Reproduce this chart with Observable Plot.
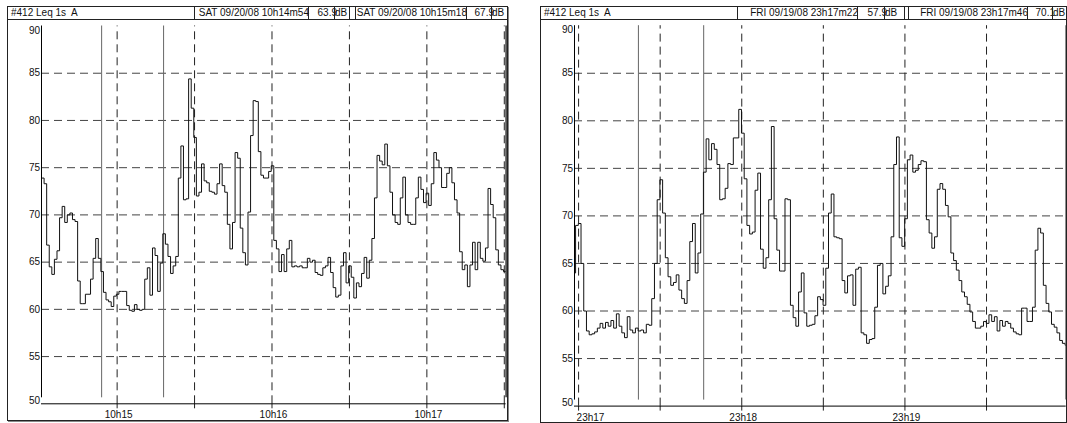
<!DOCTYPE html>
<html><head><meta charset="utf-8">
<script src="https://cdn.jsdelivr.net/npm/d3@7"></script>
<script src="https://cdn.jsdelivr.net/npm/@observablehq/plot@0.6"></script>
<style>
body{margin:0;background:#fff;font-family:"Liberation Sans",Arial,sans-serif;}
#wrap{position:relative;width:1067px;height:423px;overflow:hidden}
.panel{position:absolute;border:1px solid #222;box-sizing:border-box;box-shadow:1px 1px 0 #888;pointer-events:none}
.hrow{position:absolute;border:1px solid #222;box-sizing:border-box;height:14px;background:#fff}
.hbox{position:absolute;top:-1px;height:14px;box-sizing:border-box;border:1px solid #222;font-size:10px;line-height:12px;white-space:pre;color:#111}
.hbox span{position:absolute;top:0;white-space:pre}
svg.p{position:absolute;top:0}
</style></head><body><div id="wrap"></div>
<script>
// ---------------- data ----------------
const headerLabel = "#412 Leq 1s  A";
const yTicks = [50, 55, 60, 65, 70, 75, 80, 85, 90];
const yGrid = [55, 60, 65, 70, 75, 80, 85];

// left panel (Saturday)
const leftDate = "SAT 09/20/08";
const leftCursorTimes = ["10h14m54", "10h15m18"];
const leftCursorValues = ["63.9", "67.9"];
const leftFirstSample = "10h14m30.7";
const leftDomain = ["10h14m30.7", "10h17m30.7"];
const leftGridTimes = ["10h15m00", "10h15m30", "10h16m00", "10h16m30", "10h17m00", "10h17m30"];
const leftTickTimes = ["10h15m00", "10h16m00", "10h17m00"];
const leftTickLabels = ["10h15", "10h16", "10h17"];
const leftValues = [
  73.9, 73.3, 66.8, 64.5, 63.7, 65.3, 66.2, 69.7, 70.9, 69.2,
  70.0, 70.2, 69.5, 69.3, 63.0, 60.6, 60.6, 61.6, 61.6, 63.2,
  65.4, 67.5, 65.4, 64.0, 61.8, 61.0, 60.8, 60.3, 61.4, 61.6,
  61.9, 61.9, 61.9, 60.4, 59.9, 59.8, 60.5, 60.0, 59.9, 60.0,
  63.2, 64.4, 61.5, 66.5, 65.7, 61.9, 64.9, 68.0, 66.9, 65.6,
  63.8, 64.6, 65.6, 73.9, 77.3, 71.6, 71.7, 84.4, 81.3, 78.2,
  72.0, 72.4, 75.4, 73.6, 73.4, 72.5, 72.4, 72.2, 73.3, 75.4,
  73.1, 72.4, 69.0, 66.4, 69.2, 76.6, 76.0, 68.6, 66.0, 64.7,
  70.3, 78.4, 82.1, 82.0, 76.7, 74.2, 73.9, 73.9, 74.6, 75.2,
  67.3, 66.4, 64.0, 65.8, 64.0, 66.4, 67.3, 64.5, 64.6, 64.5,
  64.6, 64.4, 64.4, 65.4, 65.0, 65.2, 63.9, 63.7, 63.6, 64.4,
  64.6, 65.5, 63.9, 62.3, 61.3, 61.5, 64.6, 66.0, 62.8, 64.6,
  63.4, 61.2, 62.8, 62.4, 63.8, 65.5, 63.3, 65.2, 67.5, 71.8,
  76.3, 75.7, 75.3, 77.5, 75.2, 72.4, 70.0, 69.2, 69.0, 71.8,
  74.0, 70.0, 69.2, 69.0, 69.0, 71.8, 74.0, 72.7, 71.3, 72.3,
  71.0, 73.3, 76.6, 75.8, 75.0, 72.9, 72.9, 74.4, 75.0, 73.4,
  71.6, 70.2, 66.1, 64.2, 64.7, 62.4, 64.7, 67.1, 64.2, 67.1,
  65.4, 65.1, 66.5, 72.8, 71.1, 69.7, 66.3, 64.7, 64.2, 64.0
];

// right panel (Friday)
const rightDate = "FRI 09/19/08";
const rightCursorTimes = ["23h17m22", "23h17m46"];
const rightCursorValues = ["57.9", "70.1"];
const rightFirstSample = "23h16m57.9";
const rightDomain = ["23h16m58.5", "23h19m59.3"];
const rightGridTimes = ["23h17m00", "23h17m30", "23h18m00", "23h18m30", "23h19m00", "23h19m30"];
const rightTickTimes = ["23h17m00", "23h18m00", "23h19m00"];
const rightTickLabels = ["23h17", "23h18", "23h19"];
const rightValues = [
  64.0, 69.0, 69.2, 65.0, 60.0, 57.9, 57.5, 57.6, 57.8, 58.2,
  58.7, 58.2, 58.8, 58.4, 59.0, 58.2, 59.7, 58.4, 57.7, 57.2,
  59.4, 58.0, 57.7, 58.2, 57.9, 58.0, 57.7, 58.6, 58.5, 61.3,
  65.0, 71.7, 73.8, 70.3, 65.6, 63.6, 62.7, 63.0, 63.8, 62.2,
  61.3, 60.8, 63.2, 67.3, 69.2, 64.0, 66.1, 70.2, 74.6, 78.1,
  75.9, 77.6, 77.0, 75.4, 71.7, 71.8, 72.9, 75.5, 75.4, 78.2,
  78.2, 81.2, 78.7, 73.9, 69.0, 68.1, 68.3, 72.7, 74.5, 66.5,
  64.5, 65.6, 71.7, 79.4, 69.7, 66.4, 64.2, 64.2, 71.8, 71.7,
  60.6, 59.3, 58.4, 62.0, 64.0, 59.8, 58.4, 58.5, 58.6, 59.5,
  61.5, 61.2, 60.6, 64.5, 70.3, 72.3, 67.8, 67.7, 67.6, 63.2,
  61.9, 63.7, 63.8, 60.6, 64.4, 64.6, 57.7, 57.5, 56.6, 57.0,
  57.1, 60.4, 64.8, 65.0, 61.8, 62.6, 63.7, 67.8, 75.4, 78.3,
  67.7, 66.8, 69.7, 75.9, 76.4, 74.6, 74.8, 75.4, 75.8, 75.7,
  69.6, 68.2, 66.6, 67.8, 72.8, 73.4, 72.8, 71.1, 69.9, 66.1,
  65.3, 64.3, 63.2, 62.0, 61.5, 60.7, 59.9, 58.9, 58.2, 58.2,
  58.4, 58.9, 58.7, 59.6, 58.9, 59.4, 57.9, 59.0, 58.4, 58.9,
  58.7, 58.2, 57.8, 57.6, 57.5, 60.3, 60.3, 58.9, 58.9, 60.4,
  66.4, 68.7, 68.2, 62.7, 60.8, 59.9, 58.6, 58.3, 57.7, 56.9,
  56.6, 56.4
];

// ---------------- helpers ----------------
function sec(s) {
  const m = s.match(/(\d+)h(\d+)(?:m([\d.]+))?/);
  return +m[1] * 3600 + +m[2] * 60 + (m[3] ? +m[3] : 0);
}
const FONT = '"Liberation Sans", Arial, sans-serif';

function makePlot(cfg) {
  const t0 = sec(cfg.first);
  const pts = cfg.values.map((v, i) => ({t: t0 + i, v}));
  pts.push({t: t0 + cfg.values.length, v: cfg.values[cfg.values.length - 1]});
  const dom = cfg.domain.map(sec);
  const grid = cfg.grid.map(sec);
  const curs = cfg.cursors.map(sec);
  const tickT = cfg.tickTimes.map(sec);
  const midY = yTicks.filter(d => d !== 50 && d !== 90);
  const lab = tickT.map((t, i) => ({t, s: cfg.tickLabels[i]}));
  return Plot.plot({
    width: cfg.w, height: 423,
    marginLeft: cfg.ml, marginRight: cfg.mr, marginTop: cfg.mt, marginBottom: cfg.mb,
    x: {domain: dom, axis: null},
    y: {domain: [50, 90], axis: null},
    style: {fontFamily: FONT, fontSize: "10px", background: "transparent", color: "#111", overflow: "visible"},
    marks: [
      Plot.ruleY(yGrid, {stroke: "#444", strokeDasharray: "8,5"}),
      Plot.ruleX(grid, {y1: 50, y2: 90, stroke: "#222", strokeDasharray: "8,5"}),
      Plot.axisX(grid, {tickSize: 5, tickFormat: () => "", stroke: "#222", label: null}),
      Plot.ruleX(curs, {y1: 50, y2: 90, stroke: "#666", insetTop: -6}),
      Plot.line(pts, {x: "t", y: "v", curve: "step-after", stroke: "#111", strokeWidth: 1, clip: true}),
      Plot.ruleX([dom[0]], {y1: 50, y2: 90, stroke: "#000", insetTop: -6}),
      Plot.ruleX([dom[1]], {y1: 50, y2: 90, stroke: "#333", strokeWidth: 1.5, insetTop: -6}),
      Plot.ruleY([50], {stroke: "#000"}),
      Plot.text(midY, {x: dom[0], y: d => d, text: d => String(d), textAnchor: "end", dx: -1.5, fill: "#111"}),
      Plot.text([90], {x: dom[0], y: d => d, text: d => String(d), textAnchor: "end", dx: -1.5, dy: 4.5, fill: "#111"}),
      Plot.text([50], {x: dom[0], y: d => d, text: d => String(d), textAnchor: "end", dx: -1.5, dy: -3.2, fill: "#111"}),
      Plot.text(lab.slice(cfg.firstStart ? 1 : 0), {x: "t", y: 50, text: "s", dy: cfg.labDy, dx: 1.5, fill: "#111"}),
      cfg.firstStart ? Plot.text(lab.slice(0, 1), {x: "t", y: 50, text: "s", dy: cfg.labDy, dx: -2, textAnchor: "start", fill: "#111"}) : null
    ]
  });
}

function addPanel(wrap, cfg) {
  const svg = makePlot(cfg);
  svg.classList.add("p");
  svg.style.left = cfg.svgLeft + "px";
  wrap.appendChild(svg);
  const panel = document.createElement("div");
  panel.className = "panel";
  Object.assign(panel.style, {left: cfg.px0 + "px", top: "6px", width: (cfg.px1 - cfg.px0 + 1) + "px", height: (cfg.py1 - 6 + 1) + "px"});
  wrap.appendChild(panel);
  const row = document.createElement("div");
  row.className = "hrow";
  Object.assign(row.style, {left: cfg.px0 + "px", top: "6px", width: (cfg.px1 - cfg.px0 + 1) + "px"});
  wrap.appendChild(row);
  const texts = [
    {text: headerLabel, align: "left"},
    {text: cfg.date + " " + cfg.cursors[0], align: "right"},
    {text: cfg.cursorValues[0], align: "right"},
    {text: "dB", align: "left"},
    {text: cfg.date + " " + cfg.cursors[1], align: "right"},
    {text: cfg.cursorValues[1], align: "right"},
    {text: "dB", align: "left"}
  ];
  cfg.boxes.forEach((b, i) => {
    const d = document.createElement("div");
    d.className = "hbox";
    Object.assign(d.style, {left: (b[0] - cfg.px0 - 1) + "px", width: (b[1] - b[0] + 1) + "px"});
    const s = document.createElement("span");
    s.textContent = texts[i].text;
    if (texts[i].align === "left") s.style.left = (i === 0 ? 3 : 0) + "px";
    else s.style.right = (i === 2 || i === 5 ? -3 : -1) + "px";
    d.appendChild(s);
    row.appendChild(d);
  });
}

const wrap = document.getElementById("wrap");
addPanel(wrap, {
  values: leftValues, first: leftFirstSample, domain: leftDomain, grid: leftGridTimes,
  cursors: leftCursorTimes, cursorValues: leftCursorValues, date: leftDate,
  tickTimes: leftTickTimes, tickLabels: leftTickLabels,
  w: 533, svgLeft: 0, ml: 41, mr: 27.4, mt: 25.5, mb: 19.7, labDy: 10.5, firstStart: false,
  px0: 7, px1: 507, py1: 420,
  boxes: [[7, 194], [194, 308], [308, 334], [334, 349], [355, 466], [466, 491], [491, 507]]
});
addPanel(wrap, {
  values: rightValues, first: rightFirstSample, domain: rightDomain, grid: rightGridTimes,
  cursors: rightCursorTimes, cursorValues: rightCursorValues, date: rightDate,
  tickTimes: rightTickTimes, tickLabels: rightTickLabels,
  w: 534, svgLeft: 533, ml: 41, mr: 1.3, mt: 25.2, mb: 17.4, labDy: 11.2, firstStart: true,
  px0: 540, px1: 1066, py1: 422,
  boxes: [[540, 737], [737, 857], [857, 884], [884, 904], [908, 1027], [1027, 1052], [1052, 1066]]
});
</script></body></html>
